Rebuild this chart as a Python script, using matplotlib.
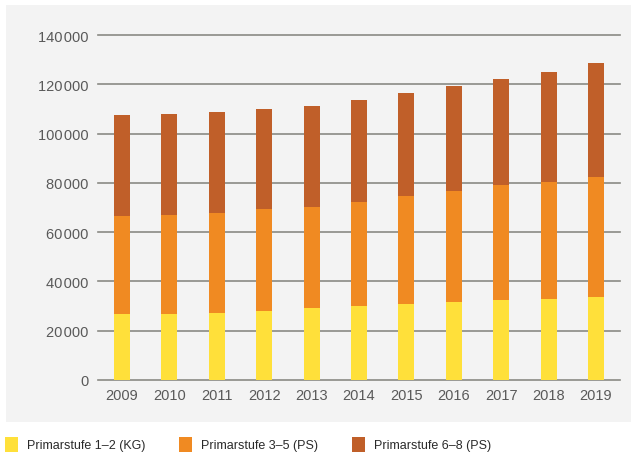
import matplotlib
matplotlib.use("Agg")
import matplotlib.pyplot as plt
from matplotlib.patches import Rectangle
from matplotlib.ticker import FuncFormatter

plt.rcParams['font.family'] = ['Liberation Sans', 'DejaVu Sans']

years = ["2009", "2010", "2011", "2012", "2013", "2014", "2015", "2016", "2017", "2018", "2019"]
kg = [26800, 26800, 27200, 28000, 29200, 30000, 30800, 31700, 32500, 32900, 33700]
ps35_top = [66600, 67000, 67800, 69400, 70200, 72200, 74700, 76700, 79100, 80400, 82400]
total = [107500, 108000, 108800, 110000, 111200, 113600, 116500, 119300, 122200, 125000, 128700]
ps35 = [a - b for a, b in zip(ps35_top, kg)]
ps68 = [a - b for a, b in zip(total, ps35_top)]

labels = ["Primarstufe 1–2 (KG)", "Primarstufe 3–5 (PS)", "Primarstufe 6–8 (PS)"]
colors = ["#FFE03A", "#F08A22", "#C05F29"]
yticks = [0, 20000, 40000, 60000, 80000, 100000, 120000, 140000]

W, H = 631, 456
fig = plt.figure(figsize=(W / 100, H / 100), dpi=100)
fig.patch.set_facecolor("white")
bg = Rectangle((6 / W, (H - 423) / H), (W - 6) / W, (423 - 6) / H,
               transform=fig.transFigure, facecolor="#F3F3F3",
               edgecolor="none", zorder=-10)
fig.add_artist(bg)

ax = fig.add_axes([98 / W, (H - 381) / H, (620 - 98) / W, (381 - 36) / H])
ax.set_facecolor("none")
ax.set_zorder(1)
x = list(range(len(years)))
bw = 0.34
ax.bar(x, kg, width=bw, color=colors[0], zorder=3)
ax.bar(x, ps35, width=bw, bottom=kg, color=colors[1], zorder=3)
ax.bar(x, ps68, width=bw, bottom=ps35_top, color=colors[2], zorder=3)

ax.set_xlim(-0.506, 10.506)
ax.set_ylim(0, 140000)
ax.set_yticks(yticks)
ax.yaxis.set_major_formatter(FuncFormatter(lambda v, p: f"{int(v):,}".replace(",", "\u200a")))
ax.set_xticks(x)
ax.set_xticklabels(years)
for yv in yticks:
    ax.axhline(yv, color="#8A8A84", lw=1.2, zorder=2, clip_on=False)
for s in ax.spines.values():
    s.set_visible(False)
ax.tick_params(axis="both", length=0, labelsize=10.5, labelcolor="#595959")
ax.tick_params(axis="y", pad=7)
ax.tick_params(axis="x", pad=6)

# legend
lx = [5, 179, 352]
for i in range(3):
    fig.add_artist(Rectangle((lx[i] / W, (H - 453) / H), 13 / W, 15 / H,
                             transform=fig.transFigure, facecolor=colors[i],
                             edgecolor="none"))
    fig.text((lx[i] + 22) / W, (H - 446) / H, labels[i], fontsize=9,
             color="#2a2a2a", va="center", ha="left")

fig.savefig("out.png", dpi=100)
